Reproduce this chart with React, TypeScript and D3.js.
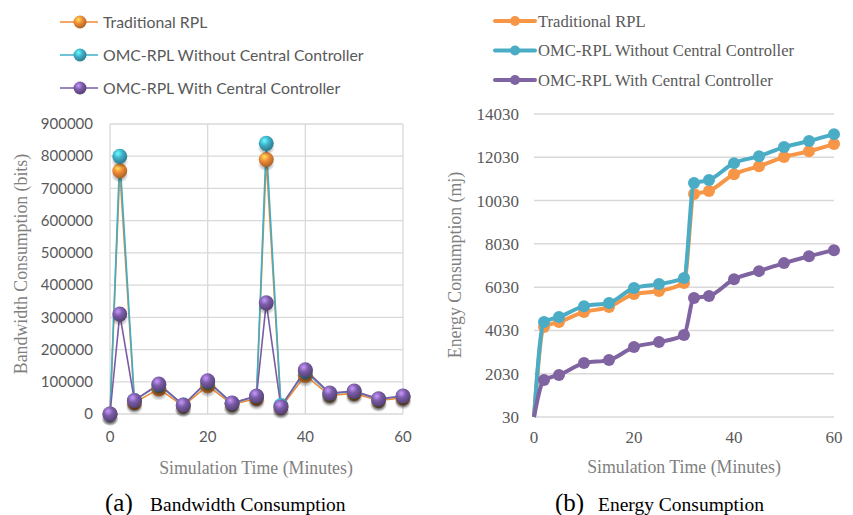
import React from "react";
import * as d3 from "d3";

const times = [0, 2, 5, 10, 15, 20, 25, 30, 32, 35, 40, 45, 50, 55, 60];
const seriesNames = ["Traditional RPL", "OMC-RPL Without Central Controller", "OMC-RPL With Central Controller"];

const bwTraditional = [0, 755000, 35000, 78000, 25000, 88000, 30000, 48000, 790000, 20000, 120000, 58000, 64000, 42000, 50000];
const bwWithout = [0, 800000, 42000, 90000, 28000, 100000, 33000, 55000, 840000, 26000, 132000, 63000, 70000, 46000, 55000];
const bwWith = [0, 310000, 42000, 93000, 28000, 103000, 34000, 56000, 345000, 22000, 137000, 65000, 71000, 47000, 56000];

const enTraditional = [30, 4190, 4420, 4880, 5110, 5710, 5850, 6220, 10330, 10470, 11250, 11620, 12040, 12310, 12640];
const enWithout = [30, 4420, 4650, 5150, 5300, 5990, 6170, 6450, 10840, 10980, 11760, 12080, 12500, 12780, 13100];
const enWith = [30, 1740, 1970, 2520, 2660, 3260, 3490, 3820, 5530, 5620, 6400, 6770, 7140, 7460, 7740];

const bwTicks = [0, 100000, 200000, 300000, 400000, 500000, 600000, 700000, 800000, 900000];
const enTicks = [30, 2030, 4030, 6030, 8030, 10030, 12030, 14030];
const xTicks = [0, 20, 40, 60];

const leftColors = ["#EF8A36", "#3FAFC8", "#7A5CA6"];
const rightColors = ["#F79646", "#4BACC6", "#8064A2"];
const gradIds = ["gO", "gC", "gP"];

const sans = "Lato, 'Open Sans', sans-serif";
const serif = "'Liberation Serif', 'Times New Roman', serif";

export default function App() {
  const xL = d3.scaleLinear().domain([0, 60]).range([110, 403]);
  const yL = d3.scaleLinear().domain([0, 900000]).range([414, 124]);
  const xR = d3.scaleLinear().domain([0, 60]).range([534, 834]);
  const yR = d3.scaleLinear().domain([30, 14030]).range([417, 114]);

  const bwSeries = [bwTraditional, bwWithout, bwWith];
  const enSeries = [enTraditional, enWithout, enWith];

  const lineL = d3.line<[number, number]>().x((d) => xL(d[0])).y((d) => yL(d[1]));
  const lineR = d3
    .line<[number, number]>()
    .x((d) => xR(d[0]))
    .y((d) => yR(d[1]))
    .curve(d3.curveMonotoneX);

  const gridCol = "#d9d9d9";

  return (
    <div style={{ position: "absolute", left: 0, top: 0 }}>
      <svg width={853} height={515} style={{ display: "block", background: "#fff" }}>
        <defs>
          {leftColors.map((c, i) => (
            <radialGradient key={i} id={gradIds[i]} cx="38%" cy="32%" r="70%">
              <stop offset="0%" stopColor={d3.color(c)!.brighter(1.4).formatHex()} />
              <stop offset="45%" stopColor={c} />
              <stop offset="100%" stopColor={d3.color(c)!.darker(1).formatHex()} />
            </radialGradient>
          ))}
          <radialGradient id="shadow" cx="50%" cy="50%" r="50%">
            <stop offset="0%" stopColor="#000" stopOpacity={0.55} />
            <stop offset="100%" stopColor="#000" stopOpacity={0} />
          </radialGradient>
        </defs>

        {/* ---------- Left chart ---------- */}
        {bwTicks.map((t) => (
          <line key={"hg" + t} x1={xL(0)} x2={xL(60)} y1={yL(t)} y2={yL(t)} stroke={gridCol} strokeWidth={1.3} />
        ))}
        {xTicks.map((t) => (
          <line key={"vg" + t} x1={xL(t)} x2={xL(t)} y1={yL(0)} y2={yL(900000)} stroke={gridCol} strokeWidth={1.3} />
        ))}
        {bwTicks.map((t) => (
          <text key={"yl" + t} x={93} y={yL(t)} dy="0.35em" textAnchor="end" fontFamily={sans} fontSize={15} fill="#595959">
            {t}
          </text>
        ))}
        {xTicks.map((t) => (
          <text key={"xl" + t} x={xL(t)} y={437} dy="0.35em" textAnchor="middle" fontFamily={sans} fontSize={15} fill="#595959">
            {t}
          </text>
        ))}
        <text x={256} y={468} dy="0.35em" textAnchor="middle" fontFamily={serif} fontSize={17.8} fill="#7f7f7f">
          Simulation Time (Minutes)
        </text>
        <text transform={`translate(21,${264}) rotate(-90)`} dy="0.35em" textAnchor="middle" fontFamily={serif} fontSize={17.8} fill="#7f7f7f">
          Bandwidth Consumption (bits)
        </text>
        {bwSeries.map((s, i) => (
          <path key={"lp" + i} d={lineL(times.map((t, j) => [t, s[j]] as [number, number]))!} fill="none" stroke={leftColors[i]} strokeWidth={1.6} />
        ))}
        {bwSeries.map((s, i) => (
          <g key={"lm" + i}>
            {times.map((t, j) => (
              <g key={j}>
                <ellipse cx={xL(t)} cy={yL(s[j]) + 5} rx={8.5} ry={7} fill="url(#shadow)" />
                <circle cx={xL(t)} cy={yL(s[j])} r={7.5} fill={`url(#${gradIds[i]})`} />
              </g>
            ))}
          </g>
        ))}
        {/* left legend */}
        {seriesNames.map((n, i) => {
          const y = 22 + i * 33;
          return (
            <g key={"lg" + i}>
              <line x1={60} x2={98} y1={y} y2={y} stroke={leftColors[i]} strokeWidth={1.6} />
              <circle cx={80} cy={y} r={6.5} fill={`url(#${gradIds[i]})`} />
              <text x={103} y={y} dy="0.35em" fontFamily={sans} fontSize={15.8} fill="#595959">
                {n}
              </text>
            </g>
          );
        })}
        <text x={105} y={502} dy="0.35em" fontFamily={serif} fontSize={25} fill="#000">(a)</text>
        <text x={150} y={504} dy="0.35em" fontFamily={serif} fontSize={19.5} fill="#000">Bandwidth Consumption</text>

        {/* ---------- Right chart ---------- */}
        {enTicks.map((t) => (
          <line key={"rhg" + t} x1={xR(0)} x2={xR(60)} y1={yR(t)} y2={yR(t)} stroke={gridCol} strokeWidth={1.5} />
        ))}
        {enTicks.map((t) => (
          <text key={"ryl" + t} x={519} y={yR(t)} dy="0.35em" textAnchor="end" fontFamily={serif} fontSize={17} fill="#595959">
            {t}
          </text>
        ))}
        {xTicks.map((t) => (
          <text key={"rxl" + t} x={xR(t)} y={437} dy="0.35em" textAnchor="middle" fontFamily={serif} fontSize={17} fill="#595959">
            {t}
          </text>
        ))}
        <text x={684} y={467} dy="0.35em" textAnchor="middle" fontFamily={serif} fontSize={17.8} fill="#7f7f7f">
          Simulation Time (Minutes)
        </text>
        <text transform={`translate(455,${265}) rotate(-90)`} dy="0.35em" textAnchor="middle" fontFamily={serif} fontSize={17.8} fill="#7f7f7f">
          Energy Consumption (mj)
        </text>
        {enSeries.map((s, i) => (
          <g key={"rs" + i}>
            <path d={lineR(times.map((t, j) => [t, s[j]] as [number, number]))!} fill="none" stroke={rightColors[i]} strokeWidth={4} strokeLinejoin="round" />
            {times.slice(1).map((t, j) => (
              <circle key={j} cx={xR(t)} cy={yR(s[j + 1])} r={6} fill={rightColors[i]} />
            ))}
          </g>
        ))}
        {seriesNames.map((n, i) => {
          const y = 21 + i * 29.5;
          return (
            <g key={"rg" + i}>
              <line x1={495} x2={535} y1={y} y2={y} stroke={rightColors[i]} strokeWidth={4} strokeLinecap="round" />
              <circle cx={515} cy={y} r={5} fill={rightColors[i]} />
              <text x={538} y={y} dy="0.35em" fontFamily={serif} fontSize={16.6} fill="#595959">
                {n}
              </text>
            </g>
          );
        })}
        <text x={555} y={502} dy="0.35em" fontFamily={serif} fontSize={25} fill="#000">(b)</text>
        <text x={598} y={504} dy="0.35em" fontFamily={serif} fontSize={19.5} fill="#000">Energy Consumption</text>
      </svg>
    </div>
  );
}
